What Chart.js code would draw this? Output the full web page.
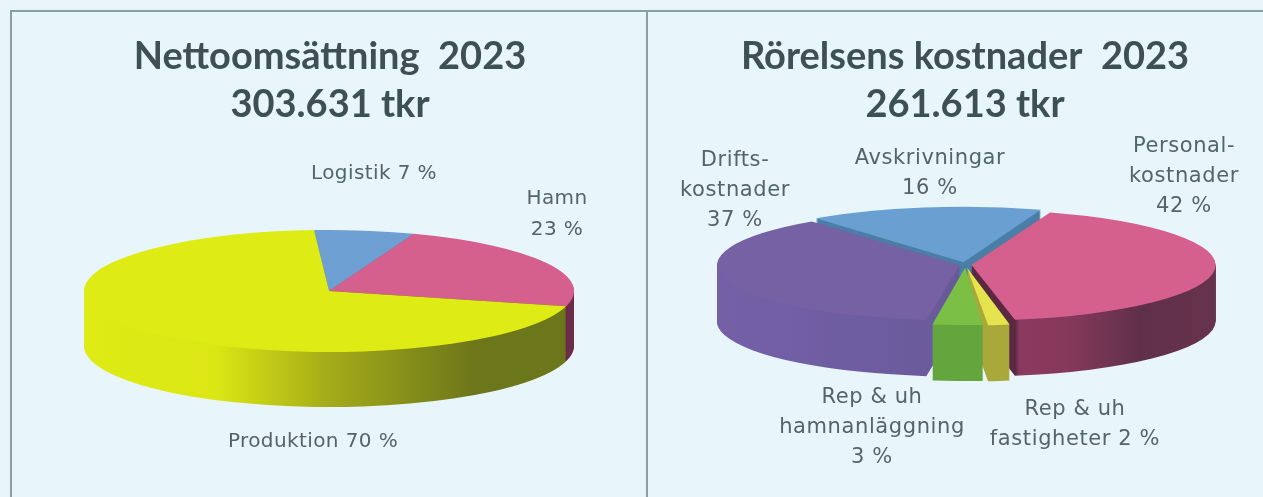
<!DOCTYPE html>
<html><head><meta charset="utf-8">
<style>
html,body{margin:0;padding:0;width:1263px;height:497px;overflow:hidden;background:#e8f6fb}
.rule{position:absolute;background:#8a9ea3}
canvas{position:absolute;top:0;filter:blur(0.55px)}
</style></head>
<body>
<canvas id="left" width="660" height="497" style="left:0;width:660px;height:497px"></canvas>
<canvas id="right" width="630" height="497" style="left:650px;width:630px;height:497px"></canvas>
<div class="rule" style="left:10px;top:10px;width:1253px;height:2px"></div>
<div class="rule" style="left:10px;top:10px;width:2px;height:487px"></div>
<div class="rule" style="left:646px;top:10px;width:2px;height:487px"></div>
<script src="https://cdn.jsdelivr.net/npm/chart.js@4"></script>
<script>
const leftTitle = ['Nettoomsättning  2023', '303.631 tkr'];
const leftCategories = ['Logistik', 'Hamn', 'Produktion'];
const leftValues = [6.6, 23.4, 70];
const leftLabelLines = [['Logistik 7 %'], ['Hamn', '23 %'], ['Produktion 70 %']];

const rightTitle = ['Rörelsens kostnader  2023', '261.613 tkr'];
const rightCategories = ['Avskrivningar', 'Personalkostnader', 'Rep & uh fastigheter', 'Rep & uh hamnanläggning', 'Driftskostnader'];
const rightValues = [15.6, 42, 1.6, 3.4, 37.4];
const rightLabelLines = [['Avskrivningar', '16 %'], ['Personal-', 'kostnader', '42 %'], ['Rep & uh', 'fastigheter 2 %'], ['Rep & uh', 'hamnanläggning', '3 %'], ['Drifts-', 'kostnader', '37 %']];

const pie3d = {
  id: 'pie3d',
  beforeDatasetsDraw(chart, args, o) {
    const ctx = chart.ctx;
    const els = chart.getDatasetMeta(0).data;
    const cx0 = els[0].x, cy0 = els[0].y;
    const place = (dy) => {
      ctx.translate(o.cx, o.cy + dy);
      ctx.scale(1, o.squash);
      ctx.translate(-cx0, -cy0);
    };
    const R = o.radius;
    const grads = o.walls.map(st => {
      const g = ctx.createLinearGradient(cx0 - R, 0, cx0 + R, 0);
      st.forEach(([p, c]) => g.addColorStop(p, c));
      return g;
    });
    o.order.forEach(i => {
      const el = els[i], saved = el.options;
      el.options = Object.assign({}, saved, {backgroundColor: grads[i], borderWidth: 0});
      for (let d = o.depth; d >= 1; d--) {
        ctx.save(); place(d); el.draw(ctx); ctx.restore();
      }
      el.options = saved;
    });
    o.order.forEach(i => { ctx.save(); place(0); els[i].draw(ctx); ctx.restore(); });
    return false;
  },
  afterDraw(chart, args, o) {
    const ctx = chart.ctx;
    ctx.save();
    ctx.font = o.font;
    ctx.letterSpacing = o.spacing;
    ctx.fillStyle = o.color;
    ctx.textAlign = 'center';
    ctx.textBaseline = 'middle';
    o.labels.forEach((lines, i) => {
      const [x, y] = o.anchors[i];
      lines.forEach((t, k) => ctx.fillText(t, x, y + k * o.lineStep));
    });
    ctx.restore();
  }
};

function make(id, title, cats, vals, style, opts) {
  return new Chart(document.getElementById(id), {
    type: 'pie',
    data: {labels: cats, datasets: [{
      data: vals,
      backgroundColor: style.colors,
      borderWidth: 0,
      offset: style.offset
    }]},
    plugins: [pie3d],
    options: {
      responsive: false,
      animation: false,
      rotation: style.rotation,
      radius: style.radius,
      layout: {padding: 0},
      events: [],
      plugins: {
        legend: {display: false},
        tooltip: {enabled: false},
        title: {
          display: true, text: title, color: '#3e4f55',
          font: {family: 'Lato', weight: 'bold', size: 38, lineHeight: 1.26},
          padding: {top: 33, bottom: 0}
        },
        pie3d: opts
      }
    }
  });
}

make('left', leftTitle, leftCategories, leftValues,
  {colors: ['#6d9fd3', '#d6608d', '#dfeb14'], offset: [0, 0, 0], rotation: -3.5, radius: 245},
  {cx: 329, cy: 291, squash: 0.249, depth: 55, radius: 245, order: [0, 1, 2],
   walls: [
     [[0, '#4d7fa8'], [1, '#4d7fa8']],
     [[0, '#6b2c4a'], [1, '#6b2c4a']],
     [[0, '#dfeb14'], [0.27, '#dbe614'], [0.5, '#a4ab19'], [0.8, '#6c761a'], [1, '#6c761a']]
   ],
   labels: leftLabelLines,
   anchors: [[374, 174], [557, 199], [313, 442]],
   lineStep: 31, font: '20px "DejaVu Sans"', spacing: '0.4px', color: '#54646a'});

make('right', rightTitle, rightCategories, rightValues,
  {colors: ['#6a9fd2', '#d6608d', '#e6e44e', '#7cbf45', '#7561a3'], offset: [50, 24, 50, 50, 24], rotation: -37.5, radius: 241},
  {cx: 315.5, cy: 265, squash: 0.228, depth: 56, radius: 241, order: [0, 1, 4, 2, 3],
   walls: [
     [[0, '#4a7ea6'], [1, '#4a7ea6']],
     [[0, '#5a2840'], [0.59, '#5a2840'], [0.6, '#8b3a5f'], [0.7, '#86395c'], [0.85, '#60304a'], [1, '#67324d']],
     [[0, '#a9a93b'], [1, '#a9a93b']],
     [[0, '#65a53d'], [1, '#65a53d']],
     [[0, '#7560a8'], [0.45, '#6a5b9c'], [0.6, '#5d5790'], [1, '#5d5790']]
   ],
   labels: rightLabelLines,
   anchors: [[280, 159], [534, 147], [425, 410], [222, 398], [85, 161]],
   lineStep: 30, font: '21px "DejaVu Sans"', spacing: '0.6px', color: '#54646a'});
</script>
</body></html>
